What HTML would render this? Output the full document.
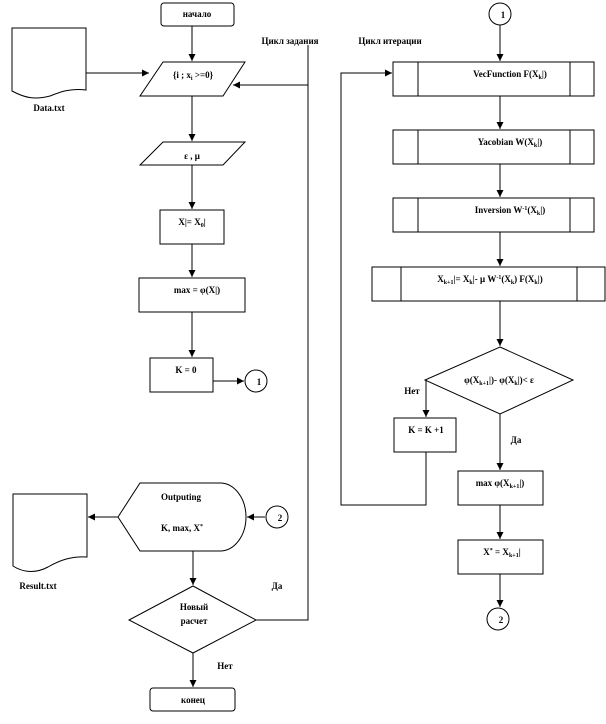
<!DOCTYPE html>
<html><head><meta charset="utf-8"><style>
html,body{margin:0;padding:0;background:#fff;width:606px;height:724px;overflow:hidden}
svg text{font-family:"Liberation Serif",serif;font-weight:bold;font-size:9px;fill:#000}
</style></head><body>
<svg width="606" height="724" viewBox="0 0 606 724" xmlns="http://www.w3.org/2000/svg">
<defs><marker id="a" markerWidth="8" markerHeight="8" refX="7" refY="4" orient="auto" markerUnits="userSpaceOnUse"><path d="M0,0.5 L7,4 L0,7.5 Z" fill="#000"/></marker></defs>
<g fill="none" stroke="#000" stroke-width="1">
<rect x="161" y="3" width="73" height="23" rx="3"/>
<line x1="192" y1="26" x2="192" y2="61" marker-end="url(#a)"/>
<path d="M12,28 H86 V90 C70,88 60,92 50,96 C35,100 25,98 12,91 Z"/>
<line x1="86" y1="73" x2="149" y2="73" marker-end="url(#a)"/>
<polygon points="163,62 245,62 223,96 140,96"/>
<line x1="192" y1="96" x2="192" y2="141" marker-end="url(#a)"/>
<polygon points="163,142 245,142 223,165 140,165"/>
<line x1="192" y1="165" x2="192" y2="209" marker-end="url(#a)"/>
<rect x="160" y="210" width="64" height="34"/>
<line x1="192" y1="244" x2="192" y2="277" marker-end="url(#a)"/>
<rect x="139" y="278" width="106" height="34"/>
<line x1="192" y1="312" x2="192" y2="357" marker-end="url(#a)"/>
<rect x="150" y="358" width="63" height="34"/>
<line x1="213" y1="381" x2="244" y2="381" marker-end="url(#a)"/>
<circle cx="256" cy="381" r="11"/>
<polyline points="256,620 308,620 308,45"/>
<line x1="308" y1="85" x2="233" y2="85" marker-end="url(#a)"/>
<path d="M118,517 L140,483 H220 A26,34 0 0 1 220,551 H140 Z"/>
<line x1="265" y1="517" x2="247" y2="517" marker-end="url(#a)"/>
<circle cx="277" cy="517" r="11"/>
<line x1="118" y1="517" x2="88" y2="517" marker-end="url(#a)"/>
<path d="M13,494 H87 V557 C72,556 60,560 48,567 C35,574 22,572 13,566 Z"/>
<line x1="193" y1="551" x2="193" y2="585" marker-end="url(#a)"/>
<polygon points="193,586 256,620 193,653 129,620"/>
<line x1="193" y1="653" x2="193" y2="687" marker-end="url(#a)"/>
<rect x="150" y="688" width="85" height="23" rx="3"/>
<circle cx="500" cy="14" r="11"/>
<line x1="500" y1="25" x2="500" y2="61" marker-end="url(#a)"/>
<rect x="393" y="62" width="201" height="34"/><line x1="418" y1="62" x2="418" y2="96"/><line x1="570" y1="62" x2="570" y2="96"/>
<line x1="500" y1="96" x2="500" y2="129" marker-end="url(#a)"/>
<rect x="393" y="130" width="201" height="34"/><line x1="418" y1="130" x2="418" y2="164"/><line x1="570" y1="130" x2="570" y2="164"/>
<line x1="500" y1="164" x2="500" y2="197" marker-end="url(#a)"/>
<rect x="393" y="198" width="201" height="34"/><line x1="418" y1="198" x2="418" y2="232"/><line x1="570" y1="198" x2="570" y2="232"/>
<line x1="500" y1="232" x2="500" y2="266" marker-end="url(#a)"/>
<rect x="372" y="267" width="233" height="34"/><line x1="401" y1="267" x2="401" y2="301"/><line x1="577" y1="267" x2="577" y2="301"/>
<line x1="500" y1="301" x2="500" y2="346" marker-end="url(#a)"/>
<polygon points="500,347 573,380 500,414 425,380"/>
<line x1="426" y1="380" x2="426" y2="417" marker-end="url(#a)"/>
<rect x="394" y="418" width="62" height="34"/>
<polyline points="426,452 426,505 341,505 341,73 392,73" marker-end="url(#a)"/>
<line x1="500" y1="414" x2="500" y2="470" marker-end="url(#a)"/>
<rect x="458" y="471" width="85" height="34"/>
<line x1="500" y1="505" x2="500" y2="539" marker-end="url(#a)"/>
<rect x="458" y="540" width="85" height="34"/>
<line x1="500" y1="574" x2="500" y2="607" marker-end="url(#a)"/>
<circle cx="498" cy="619" r="11"/>
</g>
<g text-anchor="middle">
<text x="197" y="17">начало</text>
<text x="49" y="111">Data.txt</text>
<text x="193" y="78">{i ; x<tspan font-size="6" dy="2">i</tspan><tspan dy="-2"> &gt;=0}</tspan></text>
<text x="192" y="159">ε , μ</text>
<text x="192" y="225">X|= X<tspan font-size="6" dy="2">0</tspan><tspan dy="-2">|</tspan></text>
<text x="197" y="293">max = φ(X|)</text>
<text x="186" y="373">K = 0</text>
<text x="259" y="385">1</text>
<text x="290" y="44">Цикл задания</text>
<text x="390" y="44">Цикл итерации</text>
<text x="503" y="18">1</text>
<text x="510" y="77">VecFunction F(X<tspan font-size="6" dy="2">k</tspan><tspan dy="-2">|)</tspan></text>
<text x="510" y="145">Yacobian W(X<tspan font-size="6" dy="2">k</tspan><tspan dy="-2">|)</tspan></text>
<text x="510" y="213">Inversion W<tspan font-size="6" dy="-3">-1</tspan><tspan dy="3">(X</tspan><tspan font-size="6" dy="2">k</tspan><tspan dy="-2">|)</tspan></text>
<text x="490" y="282">X<tspan font-size="6" dy="2">k+1</tspan><tspan dy="-2">|= X</tspan><tspan font-size="6" dy="2">k</tspan><tspan dy="-2">|- μ W</tspan><tspan font-size="6" dy="-3">-1</tspan><tspan dy="3">(X</tspan><tspan font-size="6" dy="2">k</tspan><tspan dy="-2">) F(X</tspan><tspan font-size="6" dy="2">k</tspan><tspan dy="-2">|)</tspan></text>
<text x="499" y="383">φ(X<tspan font-size="6" dy="2">k+1</tspan><tspan dy="-2">|)- φ(X</tspan><tspan font-size="6" dy="2">k</tspan><tspan dy="-2">|)&lt; ε</tspan></text>
<text x="412" y="394">Нет</text>
<text x="426" y="433">K = K +1</text>
<text x="516" y="443">Да</text>
<text x="500" y="486">max φ(X<tspan font-size="6" dy="2">k+1</tspan><tspan dy="-2">|)</tspan></text>
<text x="502" y="555">X<tspan font-size="6" dy="-3">*</tspan><tspan dy="3"> = X</tspan><tspan font-size="6" dy="2">k+1</tspan><tspan dy="-2">|</tspan></text>
<text x="501" y="623">2</text>
<text x="181" y="500">Outputing</text>
<text x="182" y="531">K, max, X<tspan font-size="6" dy="-3">*</tspan></text>
<text x="280" y="521">2</text>
<text x="38" y="589">Result.txt</text>
<text x="194" y="610">Новый</text>
<text x="194" y="624">расчет</text>
<text x="277" y="589">Да</text>
<text x="225" y="669">Нет</text>
<text x="193" y="703">конец</text>
</g>
</svg>
</body></html>
